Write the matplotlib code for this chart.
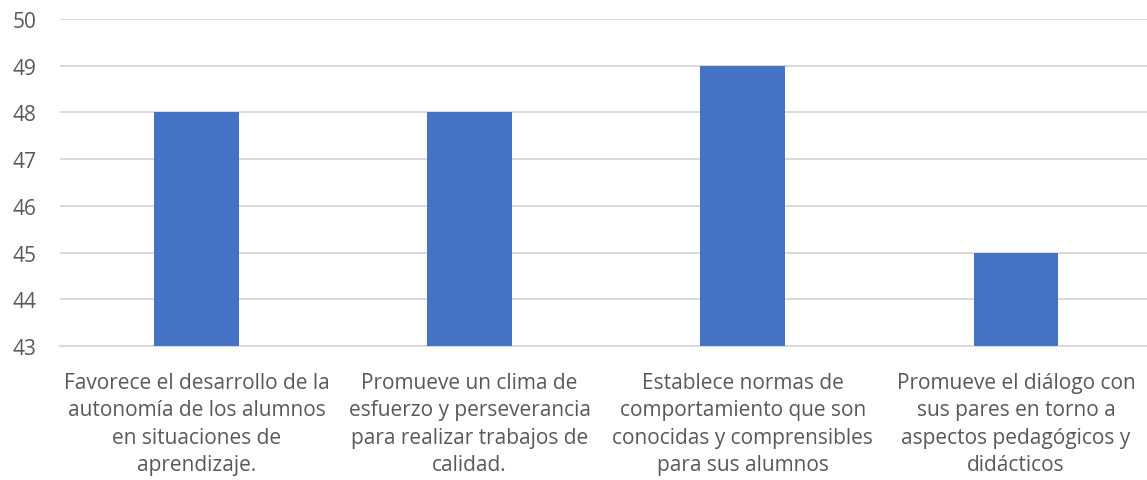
import matplotlib
matplotlib.use("Agg")
import matplotlib.pyplot as plt

categories = [
    "Favorece el desarrollo de la\nautonomía de los alumnos\nen situaciones de\naprendizaje.",
    "Promueve un clima de\nesfuerzo y perseverancia\npara realizar trabajos de\ncalidad.",
    "Establece normas de\ncomportamiento que son\nconocidas y comprensibles\npara sus alumnos",
    "Promueve el diálogo con\nsus pares en torno a\naspectos pedagógicos y\ndidácticos",
]
values = [48, 48, 49, 45]
yticks = [43, 44, 45, 46, 47, 48, 49, 50]

plt.rcParams['font.family'] = ['Open Sans', 'DejaVu Sans']
W, H = 1147, 481
fig = plt.figure(figsize=(W / 100, H / 100), dpi=100)
ax = fig.add_axes([60 / W, 1 - 347 / H, (W - 60) / W, (347 - 20) / H])

x = list(range(len(categories)))
ax.bar(x, values, width=0.31, color="#4472C4", zorder=3)
ax.set_ylim(43, 50)
ax.set_xlim(-0.5, 3.48)
ax.set_yticks(yticks)
ax.grid(axis="y", color="#D9D9D9", linewidth=1.4, zorder=0)
ax.set_axisbelow(True)
for s in ["top", "right", "left"]:
    ax.spines[s].set_visible(False)
ax.spines["bottom"].set_color("#D9D9D9")
ax.spines["bottom"].set_linewidth(1.4)
ax.tick_params(axis="both", length=0, colors="#595959", labelsize=15)
ax.tick_params(axis="y", pad=17)
ax.tick_params(axis="x", pad=19)
ax.set_xticks(x)
ax.set_xticklabels(categories, linespacing=1.38)

fig.savefig("out.png", dpi=100)
